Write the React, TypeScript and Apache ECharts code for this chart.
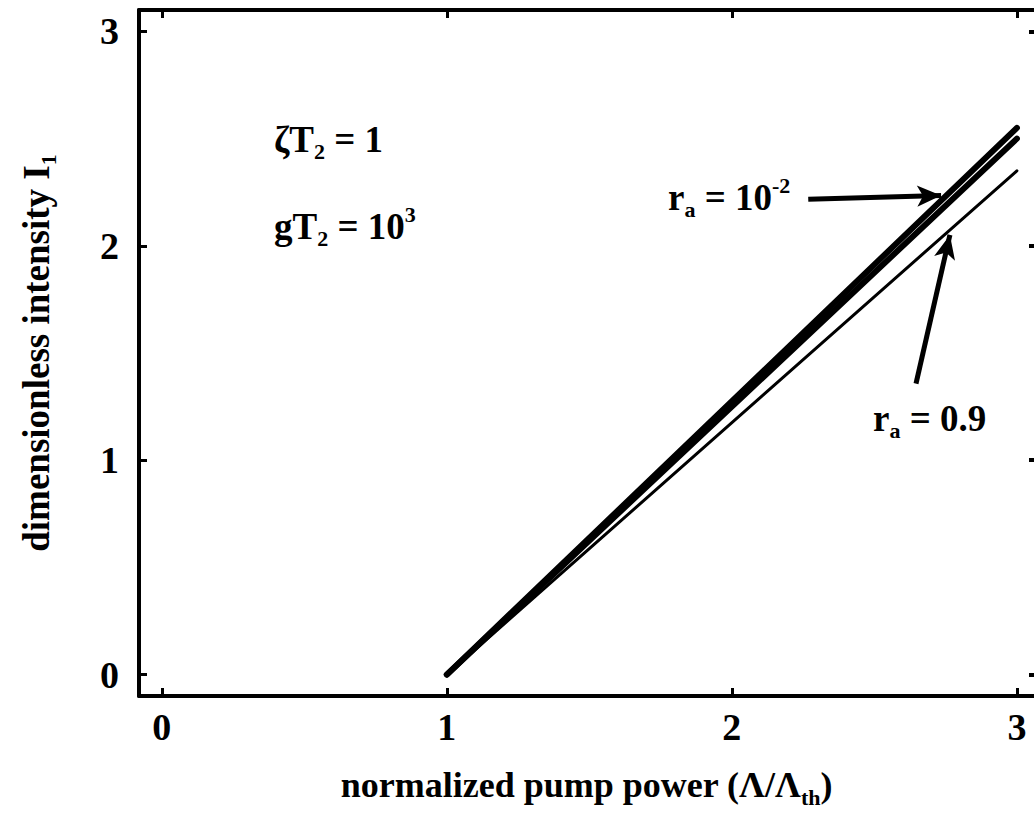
import React, { useEffect, useRef } from "react";
import * as echarts from "echarts";

const xTicks = [0, 1, 2, 3];
const yTicks = [0, 1, 2, 3];
const pumpPower = [1, 3];
const intensityLow = [0, 2.55];
const intensityMid = [0, 2.5];
const intensityHigh = [0, 2.35];
const arrowLow = [[2.268, 2.217], [2.734, 2.235]];
const arrowHigh = [[2.646, 1.357], [2.765, 2.051]];

const FONT = "'Liberation Serif', 'Times New Roman', serif";

const richStyles = {
  m: { fontSize: 37, fontWeight: "bold", fontFamily: FONT, color: "#000", lineHeight: 46 },
  sub: { fontSize: 22, fontWeight: "bold", fontFamily: FONT, color: "#000", verticalAlign: "bottom", lineHeight: 46 },
  sup: { fontSize: 22, fontWeight: "bold", fontFamily: FONT, color: "#000", verticalAlign: "top", lineHeight: 46 },
};

export default function App() {
  const ref = useRef<HTMLDivElement>(null);
  useEffect(() => {
    if (!ref.current) return;
    const chart = echarts.init(ref.current, null, { renderer: "svg" });
    const pairs = (ys: number[]) => pumpPower.map((x, i) => [x, ys[i]]);
    const axisLine = { show: true, onZero: false, lineStyle: { color: "#000", width: 4 } };
    const tick = { show: true, inside: true, length: 8, lineStyle: { color: "#000", width: 3 }, customValues: xTicks };
    const labelStyle = { fontSize: 38, fontWeight: "bold", fontFamily: FONT, color: "#000" };
    const nameRich = {
      sub: { fontSize: 22, fontWeight: "bold", fontFamily: FONT, color: "#000", verticalAlign: "bottom", lineHeight: 46 },
    };
    chart.setOption({
      animation: false,
      backgroundColor: "#fff",
      grid: { left: 139, top: 10, right: 0, bottom: 111, containLabel: false },
      xAxis: [
        {
          type: "value",
          min: -0.08,
          max: 3.06,
          position: "bottom",
          axisLine,
          axisTick: tick,
          axisLabel: { ...labelStyle, customValues: xTicks, margin: 12, formatter: (v: number) => String(v) },
          splitLine: { show: false },
          name: "normalized pump power (Λ/Λ{sub|th})",
          nameLocation: "middle",
          nameGap: 66,
          nameTextStyle: { ...labelStyle, fontSize: 36, rich: nameRich, lineHeight: 46 },
        },
        {
          type: "value",
          min: -0.08,
          max: 3.06,
          position: "top",
          axisLine,
          axisTick: tick,
          axisLabel: { show: false },
          splitLine: { show: false },
        },
      ],
      yAxis: [
        {
          type: "value",
          min: -0.1,
          max: 3.1,
          position: "left",
          axisLine,
          axisTick: { ...tick, customValues: yTicks },
          axisLabel: { ...labelStyle, customValues: yTicks, margin: 20, formatter: (v: number) => String(v) },
          splitLine: { show: false },
          name: "dimensionless intensity I{sub|1}",
          nameLocation: "middle",
          nameGap: 80,
          nameTextStyle: { ...labelStyle, fontSize: 37, rich: nameRich, lineHeight: 46 },
        },
        {
          type: "value",
          min: -0.1,
          max: 3.1,
          position: "right",
          axisLine: { show: false, onZero: false },
          axisTick: { show: true, inside: true, length: 5, lineStyle: { color: "#000", width: 4 }, customValues: yTicks },
          axisLabel: { show: false },
          splitLine: { show: false },
        },
      ],
      series: [
        {
          name: "r_a = 10^-2",
          type: "line",
          data: pairs(intensityLow),
          showSymbol: false,
          lineStyle: { color: "#000", width: 6, cap: "round" },
          markLine: {
            silent: true,
            symbol: ["none", "arrow"],
            symbolSize: [16, 24],
            label: { show: false },
            lineStyle: { color: "#000", width: 5, type: "solid" },
            data: [
              [{ coord: arrowLow[0] }, { coord: arrowLow[1] }],
              [{ coord: arrowHigh[0] }, { coord: arrowHigh[1] }],
            ],
          },
        },
        {
          name: "mid",
          type: "line",
          data: pairs(intensityMid),
          showSymbol: false,
          lineStyle: { color: "#000", width: 6, cap: "round" },
        },
        {
          name: "r_a = 0.9",
          type: "line",
          data: pairs(intensityHigh),
          showSymbol: false,
          lineStyle: { color: "#000", width: 3, cap: "round" },
        },
      ],
      graphic: [
        {
          type: "text",
          left: 274,
          top: 121,
          style: { text: "{m|ζT}{sub|2}{m| = 1}", rich: richStyles },
        },
        {
          type: "text",
          left: 274,
          top: 203,
          style: { text: "{m|gT}{sub|2}{m| = 10}{sup|3}", rich: richStyles },
        },
        {
          type: "text",
          left: 668,
          top: 174,
          style: { text: "{m|r}{sub|a}{m| = 10}{sup|-2}", rich: richStyles },
        },
        {
          type: "text",
          left: 873,
          top: 400,
          style: { text: "{m|r}{sub|a}{m| = 0.9}", rich: richStyles },
        },
      ],
    });
    return () => chart.dispose();
  }, []);
  return (
    <div
      ref={ref}
      style={{ position: "fixed", left: 0, top: 0, width: 1034, height: 813, background: "#fff" }}
    />
  );
}
